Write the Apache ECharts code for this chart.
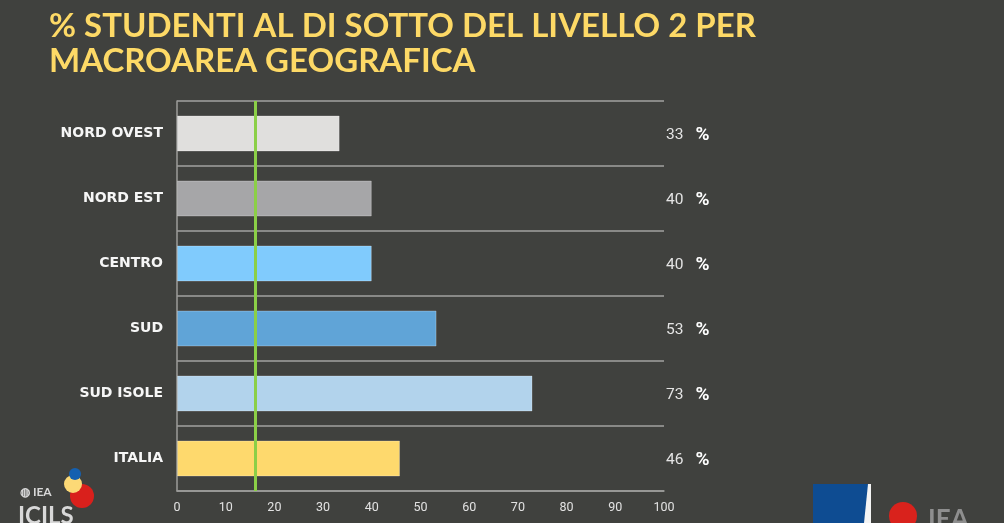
<!DOCTYPE html>
<html>
<head>
<meta charset="utf-8">
<script src="https://cdn.jsdelivr.net/npm/echarts@6/dist/echarts.min.js"></script>
<style>
html,body{margin:0;padding:0;background:#40413e;}
#chart{width:1004px;height:523px;}
</style>
</head>
<body>
<div id="chart"></div>
<script>
const categories = ['NORD OVEST', 'NORD EST', 'CENTRO', 'SUD', 'SUD ISOLE', 'ITALIA'];
const values = [33.4, 40, 40, 53.3, 73, 45.8];
const valueLabels = ['33', '40', '40', '53', '73', '46'];
const barColors = ['#e0dfdd', '#a6a6a8', '#80cbfd', '#60a4d7', '#b2d3ec', '#fed96d'];
const threshold = [16];
const xTicks = [0, 10, 20, 30, 40, 50, 60, 70, 80, 90, 100];
const titleLines = ['% STUDENTI AL DI SOTTO DEL LIVELLO 2 PER', 'MACROAREA GEOGRAFICA'];

const chart = echarts.init(document.getElementById('chart'));
chart.setOption({
  backgroundColor: '#40413e',
  animation: false,
  title: {
    text: titleLines.join('\n'),
    left: 44,
    top: 4,
    textStyle: {
      color: '#fdd966',
      fontFamily: 'Lato',
      fontWeight: 'bold',
      fontSize: 33,
      lineHeight: 35
    }
  },
  grid: { left: 177, right: 340, top: 101, bottom: 32, containLabel: false },
  xAxis: {
    type: 'value',
    min: xTicks[0],
    max: xTicks[xTicks.length - 1],
    interval: 10,
    axisLine: { show: true, lineStyle: { color: '#9c9c9a', width: 1.5 } },
    axisTick: { show: false },
    splitLine: { show: false },
    axisLabel: { color: '#e2e2e2', fontSize: 12.5, margin: 10, fontFamily: 'Roboto' }
  },
  yAxis: [{
    type: 'category',
    data: categories,
    inverse: true,
    axisLine: { show: true, lineStyle: { color: '#9c9c9a', width: 1.5 } },
    axisTick: { show: false },
    splitLine: { show: true, interval: 0, lineStyle: { color: '#a2a2a0', width: 1.5 } },
    axisLabel: {
      color: '#f6f6f6', fontSize: 14, fontWeight: 'bold',
      fontFamily: 'DejaVu Sans', margin: 14
    }
  }, {
    type: 'category',
    data: categories,
    inverse: true,
    position: 'right',
    axisLine: { show: false },
    axisTick: { show: false },
    splitLine: { show: false },
    axisLabel: {
      margin: 2,
      formatter: (v, i) => '{n|' + valueLabels[i] + '}{p|%}',
      rich: {
        n: { color: '#e4e4e4', fontSize: 15.5, fontFamily: 'Roboto', padding: [3, 0, 0, 0] },
        p: { color: '#ffffff', fontSize: 19, fontWeight: 'bold', fontFamily: 'Roboto', padding: [3, 0, 0, 12] }
      }
    }
  }],
  series: [{
    type: 'bar',
    barWidth: 36,
    data: values.map((v, i) => ({
      value: v,
      itemStyle: { color: barColors[i], borderColor: 'rgba(255,255,255,0.25)', borderWidth: 1 }
    })),
    markLine: {
      silent: true,
      symbol: 'none',
      label: { show: false },
      lineStyle: { color: '#8bcf47', width: 3, type: 'solid' },
      data: threshold.map(t => ({ xAxis: t }))
    }
  }],
  graphic: [
    // ICILS logo (bottom-left)
    { type: 'circle', shape: { cx: 82, cy: 496, r: 12 }, style: { fill: '#d9201c' } },
    { type: 'circle', shape: { cx: 73, cy: 484, r: 9 }, style: { fill: '#fcd976' } },
    { type: 'circle', shape: { cx: 75, cy: 474, r: 6 }, style: { fill: '#1560b0' } },
    { type: 'text', left: 20, top: 486, style: { text: '◍ IEA', fill: '#d8d8d8', font: 'bold 12px Lato' } },
    { type: 'text', left: 18, top: 504, style: { text: 'ICILS', fill: '#d8d8d8', font: 'bold 24px Lato' } },
    // Right logos
    { type: 'rect', shape: { x: 813, y: 484, width: 57, height: 40 }, style: { fill: '#0e4c92' } },
    { type: 'polygon', shape: { points: [[868, 484], [871, 484], [871, 523], [864, 523]] }, style: { fill: '#f4f4f4' } },
    { type: 'circle', shape: { cx: 903, cy: 516, r: 14 }, style: { fill: '#d9221c' } },
    { type: 'text', left: 928, top: 507, style: { text: 'IEA', fill: '#8e8e8e', font: 'bold 26px Lato' } }
  ]
});
</script>
</body>
</html>
